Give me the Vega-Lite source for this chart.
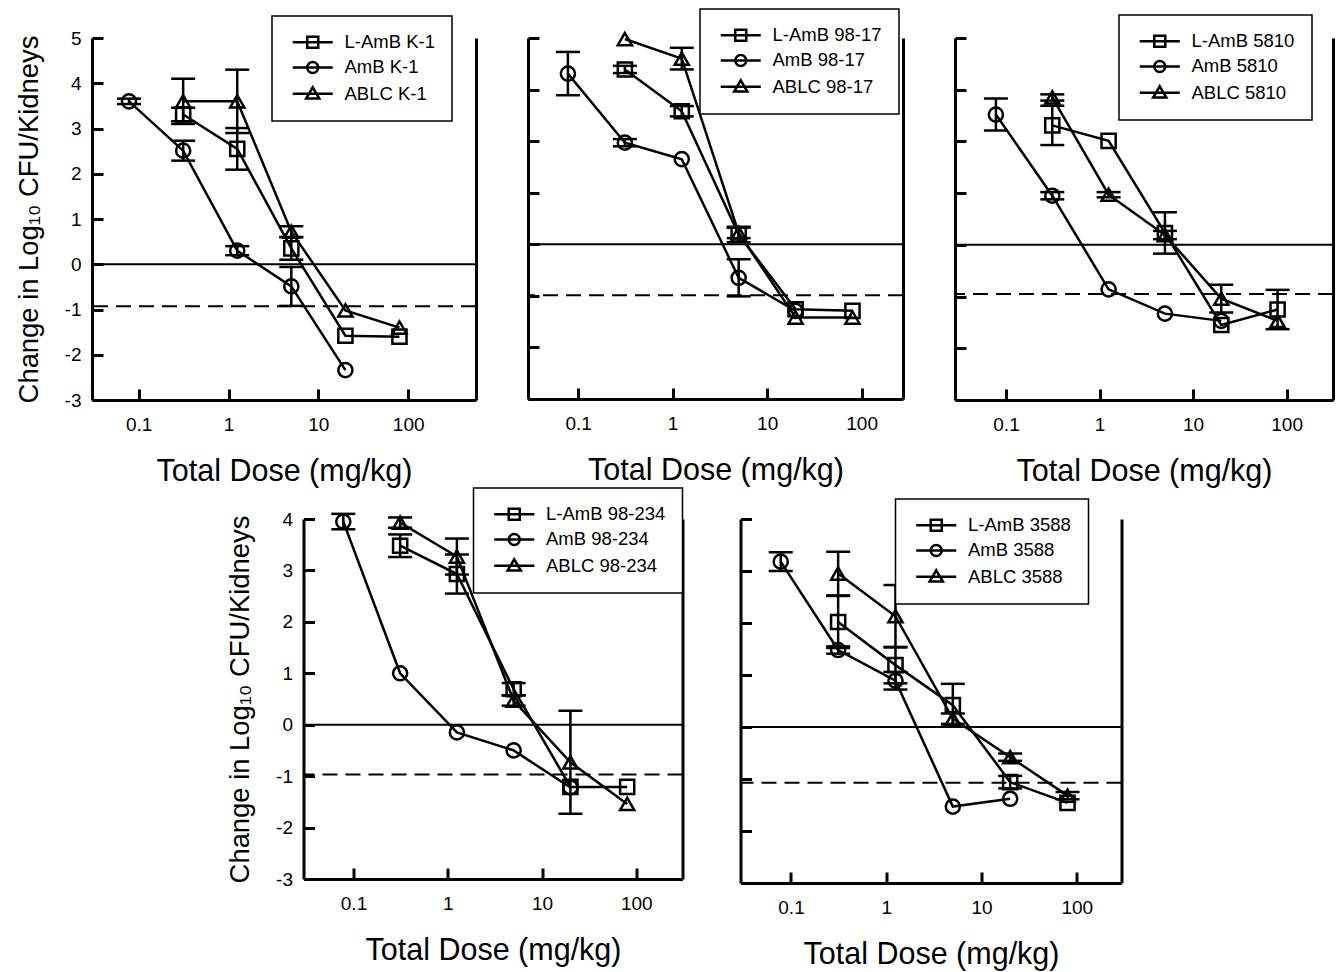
{
  "$schema": "https://vega.github.io/schema/vega-lite/v6.json",
  "background": "white",
  "padding": {"left": 15, "top": 8, "right": 5, "bottom": 5},
  "config": {
    "font": "Liberation Sans",
    "view": {"stroke": null},
    "axis": {"domainColor": "black", "domainWidth": 3, "tickColor": "black", "tickWidth": 3, "tickSize": -11, "labelColor": "black", "labelFontSize": 19, "titleColor": "black", "titleFontSize": 30.5, "titleFontWeight": "normal", "grid": false, "labelFont": "Liberation Sans", "titleFont": "Liberation Sans", "labelFlush": false},
    "axisX": {"titlePadding": 22, "labelPadding": 26},
    "axisY": {"titlePadding": 21, "labelPadding": 22, "titleFontSize": 27.4},
    "legend": {"orient": "none", "strokeColor": "black", "strokeWidth": 1.5, "fillColor": "white", "padding": 17, "labelFontSize": 18.5, "labelColor": "black", "labelFont": "Liberation Sans", "symbolSize": 121, "symbolStrokeWidth": 2.5, "symbolStrokeColor": "black", "symbolFillColor": "transparent", "symbolOffset": 14.5, "labelOffset": 22.5, "rowPadding": 3.2}
  },
  "spacing": 0,
  "center": true,
  "resolve": {"scale": {"shape": "independent"}, "legend": {"shape": "independent"}},
  "vconcat": [
    {
      "spacing": 52,
      "bounds": "flush",
      "resolve": {"scale": {"shape": "independent"}, "legend": {"shape": "independent"}},
      "hconcat": [
        {
          "width": 384, "height": 362,
          "data": {"values": [
            {"s": "L-AmB K-1", "d": 0.3125, "v": 3.31, "e": 0.15},
            {"s": "L-AmB K-1", "d": 1.25, "v": 2.55, "e": 0.46},
            {"s": "L-AmB K-1", "d": 5, "v": 0.35, "e": 0.25},
            {"s": "L-AmB K-1", "d": 20, "v": -1.58, "e": 0},
            {"s": "L-AmB K-1", "d": 80, "v": -1.6, "e": 0},
            {"s": "AmB K-1", "d": 0.078, "v": 3.6, "e": 0.06},
            {"s": "AmB K-1", "d": 0.3125, "v": 2.51, "e": 0.22},
            {"s": "AmB K-1", "d": 1.25, "v": 0.3, "e": 0.1},
            {"s": "AmB K-1", "d": 5, "v": -0.49, "e": 0.43},
            {"s": "AmB K-1", "d": 20, "v": -2.34, "e": 0},
            {"s": "ABLC K-1", "d": 0.3125, "v": 3.6, "e": 0.5},
            {"s": "ABLC K-1", "d": 1.25, "v": 3.6, "e": 0.7},
            {"s": "ABLC K-1", "d": 5, "v": 0.72, "e": 0.12},
            {"s": "ABLC K-1", "d": 20, "v": -1.02, "e": 0},
            {"s": "ABLC K-1", "d": 80, "v": -1.4, "e": 0}
          ]},
          "resolve": {"axis": {"y": "independent"}, "scale": {"shape": "independent"}},
          "layer": [
            {"data": {"values": [{"y": 0}]}, "mark": {"type": "rule", "color": "black", "strokeWidth": 2}, "encoding": {"y": {"field": "y", "type": "quantitative", "scale": {"domain": [-3, 5], "nice": false}, "axis": {"orient": "right", "labels": false, "ticks": false, "title": null, "domain": true}}}},
            {"data": {"values": [{"y": -0.93}]}, "mark": {"type": "rule", "color": "black", "strokeWidth": 2, "strokeDash": [15, 8]}, "encoding": {"y": {"field": "y", "type": "quantitative", "axis": null}}},
            {"transform": [{"filter": "datum.e > 0"}], "mark": {"type": "errorbar", "color": "black", "thickness": 2.5, "ticks": {"size": 24, "color": "black", "opacity": 1}, "rule": {"color": "black", "opacity": 1}}, "encoding": {"x": {"field": "d", "type": "quantitative", "scale": {"type": "log", "domain": [0.0302, 569], "nice": false}, "axis": {"values": [0.1, 1, 10, 100], "format": "~g", "title": "Total Dose (mg/kg)"}}, "y": {"field": "v", "type": "quantitative", "axis": null}, "yError": {"field": "e"}}},
            {"mark": {"type": "line", "color": "black", "strokeWidth": 2.5}, "encoding": {"x": {"field": "d", "type": "quantitative", "scale": {"type": "log", "domain": [0.0302, 569], "nice": false}, "axis": {"values": [0.1, 1, 10, 100], "format": "~g", "title": "Total Dose (mg/kg)"}}, "y": {"field": "v", "type": "quantitative", "scale": {"domain": [-3, 5], "nice": false}, "axis": {"values": [-3, -2, -1, 0, 1, 2, 3, 4, 5], "labelExpr": "'' + datum.value", "title": "Change in Log₁₀ CFU/Kidneys"}}, "detail": {"field": "s"}}},
            {"mark": {"type": "point", "filled": false, "color": "black", "strokeWidth": 2.5, "size": 200, "opacity": 1}, "encoding": {"x": {"field": "d", "type": "quantitative", "scale": {"type": "log", "domain": [0.0302, 569], "nice": false}, "axis": {"values": [0.1, 1, 10, 100], "format": "~g", "title": "Total Dose (mg/kg)"}}, "y": {"field": "v", "type": "quantitative", "axis": null}, "shape": {"field": "s", "type": "nominal", "scale": {"domain": ["L-AmB K-1", "AmB K-1", "ABLC K-1"], "range": ["square", "circle", "triangle-up"]}, "legend": null}}},
            {"transform": [{"filter": "false"}], "mark": {"type": "point", "filled": false, "color": "black", "strokeWidth": 2.5, "opacity": 1}, "encoding": {"shape": {"field": "s", "type": "nominal", "scale": {"domain": ["L-AmB K-1", "AmB K-1", "ABLC K-1"], "range": ["M-3.64,0H3.64M-1,-1H1V1H-1Z", "M-3.64,0H3.64M-1,0A1,1,0,1,0,1,0A1,1,0,1,0,-1,0Z", "M-3.64,0H3.64M0,-1.15L1.2,0.9H-1.2Z"]}, "legend": {"title": null, "legendX": 180, "legendY": -22}}}}
          ]
        },
        {
          "width": 375, "height": 361,
          "data": {"values": [
            {"s": "L-AmB 98-17", "d": 0.3125, "v": 3.39, "e": 0.07},
            {"s": "L-AmB 98-17", "d": 1.25, "v": 2.58, "e": 0.1},
            {"s": "L-AmB 98-17", "d": 5, "v": 0.19, "e": 0.15},
            {"s": "L-AmB 98-17", "d": 20, "v": -1.26, "e": 0},
            {"s": "L-AmB 98-17", "d": 80, "v": -1.29, "e": 0},
            {"s": "AmB 98-17", "d": 0.078, "v": 3.31, "e": 0.42},
            {"s": "AmB 98-17", "d": 0.3125, "v": 1.97, "e": 0.07},
            {"s": "AmB 98-17", "d": 1.25, "v": 1.65, "e": 0},
            {"s": "AmB 98-17", "d": 5, "v": -0.65, "e": 0.36},
            {"s": "AmB 98-17", "d": 20, "v": -1.29, "e": 0},
            {"s": "ABLC 98-17", "d": 0.3125, "v": 3.98, "e": 0},
            {"s": "ABLC 98-17", "d": 1.25, "v": 3.6, "e": 0.21},
            {"s": "ABLC 98-17", "d": 5, "v": 0.22, "e": 0.1},
            {"s": "ABLC 98-17", "d": 20, "v": -1.42, "e": 0},
            {"s": "ABLC 98-17", "d": 80, "v": -1.42, "e": 0}
          ]},
          "resolve": {"axis": {"y": "independent"}, "scale": {"shape": "independent"}},
          "layer": [
            {"data": {"values": [{"y": 0}]}, "mark": {"type": "rule", "color": "black", "strokeWidth": 2}, "encoding": {"y": {"field": "y", "type": "quantitative", "scale": {"domain": [-3, 4], "nice": false}, "axis": {"orient": "right", "labels": false, "ticks": false, "title": null, "domain": true}}}},
            {"data": {"values": [{"y": -0.99}]}, "mark": {"type": "rule", "color": "black", "strokeWidth": 2, "strokeDash": [15, 8]}, "encoding": {"y": {"field": "y", "type": "quantitative", "axis": null}}},
            {"transform": [{"filter": "datum.e > 0"}], "mark": {"type": "errorbar", "color": "black", "thickness": 2.5, "ticks": {"size": 24, "color": "black", "opacity": 1}, "rule": {"color": "black", "opacity": 1}}, "encoding": {"x": {"field": "d", "type": "quantitative", "scale": {"type": "log", "domain": [0.0295, 274], "nice": false}, "axis": {"values": [0.1, 1, 10, 100], "format": "~g", "title": "Total Dose (mg/kg)"}}, "y": {"field": "v", "type": "quantitative", "axis": null}, "yError": {"field": "e"}}},
            {"mark": {"type": "line", "color": "black", "strokeWidth": 2.5}, "encoding": {"x": {"field": "d", "type": "quantitative", "scale": {"type": "log", "domain": [0.0295, 274], "nice": false}, "axis": {"values": [0.1, 1, 10, 100], "format": "~g", "title": "Total Dose (mg/kg)"}}, "y": {"field": "v", "type": "quantitative", "scale": {"domain": [-3, 4], "nice": false}, "axis": {"values": [-3, -2, -1, 0, 1, 2, 3, 4], "labels": false, "title": null}}, "detail": {"field": "s"}}},
            {"mark": {"type": "point", "filled": false, "color": "black", "strokeWidth": 2.5, "size": 200, "opacity": 1}, "encoding": {"x": {"field": "d", "type": "quantitative", "scale": {"type": "log", "domain": [0.0295, 274], "nice": false}, "axis": {"values": [0.1, 1, 10, 100], "format": "~g", "title": "Total Dose (mg/kg)"}}, "y": {"field": "v", "type": "quantitative", "axis": null}, "shape": {"field": "s", "type": "nominal", "scale": {"domain": ["L-AmB 98-17", "AmB 98-17", "ABLC 98-17"], "range": ["square", "circle", "triangle-up"]}, "legend": null}}},
            {"transform": [{"filter": "false"}], "mark": {"type": "point", "filled": false, "color": "black", "strokeWidth": 2.5, "opacity": 1}, "encoding": {"shape": {"field": "s", "type": "nominal", "scale": {"domain": ["L-AmB 98-17", "AmB 98-17", "ABLC 98-17"], "range": ["M-3.64,0H3.64M-1,-1H1V1H-1Z", "M-3.64,0H3.64M-1,0A1,1,0,1,0,1,0A1,1,0,1,0,-1,0Z", "M-3.64,0H3.64M0,-1.15L1.2,0.9H-1.2Z"]}, "legend": {"title": null, "legendX": 172, "legendY": -29}}}}
          ]
        },
        {
          "width": 378, "height": 362,
          "data": {"values": [
            {"s": "L-AmB 5810", "d": 0.3125, "v": 2.31, "e": 0.38},
            {"s": "L-AmB 5810", "d": 1.25, "v": 2.01, "e": 0},
            {"s": "L-AmB 5810", "d": 5, "v": 0.23, "e": 0.4},
            {"s": "L-AmB 5810", "d": 20, "v": -1.55, "e": 0},
            {"s": "L-AmB 5810", "d": 80, "v": -1.25, "e": 0.38},
            {"s": "AmB 5810", "d": 0.078, "v": 2.52, "e": 0.31},
            {"s": "AmB 5810", "d": 0.3125, "v": 0.95, "e": 0.07},
            {"s": "AmB 5810", "d": 1.25, "v": -0.86, "e": 0},
            {"s": "AmB 5810", "d": 5, "v": -1.33, "e": 0},
            {"s": "AmB 5810", "d": 20, "v": -1.47, "e": 0},
            {"s": "ABLC 5810", "d": 0.3125, "v": 2.85, "e": 0.06},
            {"s": "ABLC 5810", "d": 1.25, "v": 0.97, "e": 0.05},
            {"s": "ABLC 5810", "d": 5, "v": 0.19, "e": 0.08},
            {"s": "ABLC 5810", "d": 20, "v": -1.04, "e": 0.27},
            {"s": "ABLC 5810", "d": 80, "v": -1.47, "e": 0}
          ]},
          "resolve": {"axis": {"y": "independent"}, "scale": {"shape": "independent"}},
          "layer": [
            {"data": {"values": [{"y": 0}]}, "mark": {"type": "rule", "color": "black", "strokeWidth": 2}, "encoding": {"y": {"field": "y", "type": "quantitative", "scale": {"domain": [-3, 4], "nice": false}, "axis": {"orient": "right", "labels": false, "ticks": false, "title": null, "domain": true}}}},
            {"data": {"values": [{"y": -0.95}]}, "mark": {"type": "rule", "color": "black", "strokeWidth": 2, "strokeDash": [15, 8]}, "encoding": {"y": {"field": "y", "type": "quantitative", "axis": null}}},
            {"transform": [{"filter": "datum.e > 0"}], "mark": {"type": "errorbar", "color": "black", "thickness": 2.5, "ticks": {"size": 24, "color": "black", "opacity": 1}, "rule": {"color": "black", "opacity": 1}}, "encoding": {"x": {"field": "d", "type": "quantitative", "scale": {"type": "log", "domain": [0.0285, 313], "nice": false}, "axis": {"values": [0.1, 1, 10, 100], "format": "~g", "title": "Total Dose (mg/kg)"}}, "y": {"field": "v", "type": "quantitative", "axis": null}, "yError": {"field": "e"}}},
            {"mark": {"type": "line", "color": "black", "strokeWidth": 2.5}, "encoding": {"x": {"field": "d", "type": "quantitative", "scale": {"type": "log", "domain": [0.0285, 313], "nice": false}, "axis": {"values": [0.1, 1, 10, 100], "format": "~g", "title": "Total Dose (mg/kg)"}}, "y": {"field": "v", "type": "quantitative", "scale": {"domain": [-3, 4], "nice": false}, "axis": {"values": [-3, -2, -1, 0, 1, 2, 3, 4], "labels": false, "title": null}}, "detail": {"field": "s"}}},
            {"mark": {"type": "point", "filled": false, "color": "black", "strokeWidth": 2.5, "size": 200, "opacity": 1}, "encoding": {"x": {"field": "d", "type": "quantitative", "scale": {"type": "log", "domain": [0.0285, 313], "nice": false}, "axis": {"values": [0.1, 1, 10, 100], "format": "~g", "title": "Total Dose (mg/kg)"}}, "y": {"field": "v", "type": "quantitative", "axis": null}, "shape": {"field": "s", "type": "nominal", "scale": {"domain": ["L-AmB 5810", "AmB 5810", "ABLC 5810"], "range": ["square", "circle", "triangle-up"]}, "legend": null}}},
            {"transform": [{"filter": "false"}], "mark": {"type": "point", "filled": false, "color": "black", "strokeWidth": 2.5, "opacity": 1}, "encoding": {"shape": {"field": "s", "type": "nominal", "scale": {"domain": ["L-AmB 5810", "AmB 5810", "ABLC 5810"], "range": ["M-3.64,0H3.64M-1,-1H1V1H-1Z", "M-3.64,0H3.64M-1,0A1,1,0,1,0,1,0A1,1,0,1,0,-1,0Z", "M-3.64,0H3.64M0,-1.15L1.2,0.9H-1.2Z"]}, "legend": {"title": null, "legendX": 164, "legendY": -23}}}}
          ]
        }
      ]
    },
    {
      "spacing": 58,
      "bounds": "flush",
      "resolve": {"scale": {"shape": "independent"}, "legend": {"shape": "independent"}},
      "hconcat": [
        {
          "width": 379, "height": 360,
          "data": {"values": [
            {"s": "L-AmB 98-234", "d": 0.3125, "v": 3.48, "e": 0.22},
            {"s": "L-AmB 98-234", "d": 1.25, "v": 2.93, "e": 0.38},
            {"s": "L-AmB 98-234", "d": 5, "v": 0.69, "e": 0.12},
            {"s": "L-AmB 98-234", "d": 20, "v": -1.21, "e": 0},
            {"s": "L-AmB 98-234", "d": 80, "v": -1.21, "e": 0},
            {"s": "AmB 98-234", "d": 0.078, "v": 3.95, "e": 0.15},
            {"s": "AmB 98-234", "d": 0.3125, "v": 1.0, "e": 0},
            {"s": "AmB 98-234", "d": 1.25, "v": -0.15, "e": 0},
            {"s": "AmB 98-234", "d": 5, "v": -0.5, "e": 0},
            {"s": "AmB 98-234", "d": 20, "v": -1.22, "e": 0},
            {"s": "ABLC 98-234", "d": 0.3125, "v": 3.93, "e": 0.1},
            {"s": "ABLC 98-234", "d": 1.25, "v": 3.27, "e": 0.35},
            {"s": "ABLC 98-234", "d": 5, "v": 0.47, "e": 0.1},
            {"s": "ABLC 98-234", "d": 20, "v": -0.73, "e": 1.0},
            {"s": "ABLC 98-234", "d": 80, "v": -1.54, "e": 0}
          ]},
          "resolve": {"axis": {"y": "independent"}, "scale": {"shape": "independent"}},
          "layer": [
            {"data": {"values": [{"y": 0}]}, "mark": {"type": "rule", "color": "black", "strokeWidth": 2}, "encoding": {"y": {"field": "y", "type": "quantitative", "scale": {"domain": [-3, 4], "nice": false}, "axis": {"orient": "right", "labels": false, "ticks": false, "title": null, "domain": true}}}},
            {"data": {"values": [{"y": -0.97}]}, "mark": {"type": "rule", "color": "black", "strokeWidth": 2, "strokeDash": [15, 8]}, "encoding": {"y": {"field": "y", "type": "quantitative", "axis": null}}},
            {"transform": [{"filter": "datum.e > 0"}], "mark": {"type": "errorbar", "color": "black", "thickness": 2.5, "ticks": {"size": 24, "color": "black", "opacity": 1}, "rule": {"color": "black", "opacity": 1}}, "encoding": {"x": {"field": "d", "type": "quantitative", "scale": {"type": "log", "domain": [0.0295, 309], "nice": false}, "axis": {"values": [0.1, 1, 10, 100], "format": "~g", "title": "Total Dose (mg/kg)"}}, "y": {"field": "v", "type": "quantitative", "axis": null}, "yError": {"field": "e"}}},
            {"mark": {"type": "line", "color": "black", "strokeWidth": 2.5}, "encoding": {"x": {"field": "d", "type": "quantitative", "scale": {"type": "log", "domain": [0.0295, 309], "nice": false}, "axis": {"values": [0.1, 1, 10, 100], "format": "~g", "title": "Total Dose (mg/kg)"}}, "y": {"field": "v", "type": "quantitative", "scale": {"domain": [-3, 4], "nice": false}, "axis": {"values": [-3, -2, -1, 0, 1, 2, 3, 4], "labelExpr": "'' + datum.value", "title": "Change in Log₁₀ CFU/Kidneys"}}, "detail": {"field": "s"}}},
            {"mark": {"type": "point", "filled": false, "color": "black", "strokeWidth": 2.5, "size": 200, "opacity": 1}, "encoding": {"x": {"field": "d", "type": "quantitative", "scale": {"type": "log", "domain": [0.0295, 309], "nice": false}, "axis": {"values": [0.1, 1, 10, 100], "format": "~g", "title": "Total Dose (mg/kg)"}}, "y": {"field": "v", "type": "quantitative", "axis": null}, "shape": {"field": "s", "type": "nominal", "scale": {"domain": ["L-AmB 98-234", "AmB 98-234", "ABLC 98-234"], "range": ["square", "circle", "triangle-up"]}, "legend": null}}},
            {"transform": [{"filter": "false"}], "mark": {"type": "point", "filled": false, "color": "black", "strokeWidth": 2.5, "opacity": 1}, "encoding": {"shape": {"field": "s", "type": "nominal", "scale": {"domain": ["L-AmB 98-234", "AmB 98-234", "ABLC 98-234"], "range": ["M-3.64,0H3.64M-1,-1H1V1H-1Z", "M-3.64,0H3.64M-1,0A1,1,0,1,0,1,0A1,1,0,1,0,-1,0Z", "M-3.64,0H3.64M0,-1.15L1.2,0.9H-1.2Z"]}, "legend": {"title": null, "legendX": 170, "legendY": -31}}}}
          ]
        },
        {
          "width": 381, "height": 364,
          "data": {"values": [
            {"s": "L-AmB 3588", "d": 0.3125, "v": 2.02, "e": 0.5},
            {"s": "L-AmB 3588", "d": 1.25, "v": 1.19, "e": 0.35},
            {"s": "L-AmB 3588", "d": 5, "v": 0.42, "e": 0.41},
            {"s": "L-AmB 3588", "d": 20, "v": -1.06, "e": 0.12},
            {"s": "L-AmB 3588", "d": 80, "v": -1.46, "e": 0},
            {"s": "AmB 3588", "d": 0.078, "v": 3.18, "e": 0.18},
            {"s": "AmB 3588", "d": 0.3125, "v": 1.48, "e": 0.07},
            {"s": "AmB 3588", "d": 1.25, "v": 0.89, "e": 0.17},
            {"s": "AmB 3588", "d": 5, "v": -1.53, "e": 0},
            {"s": "AmB 3588", "d": 20, "v": -1.38, "e": 0},
            {"s": "ABLC 3588", "d": 0.3125, "v": 2.95, "e": 0.42},
            {"s": "ABLC 3588", "d": 1.25, "v": 2.13, "e": 0.6},
            {"s": "ABLC 3588", "d": 5, "v": 0.16, "e": 0.1},
            {"s": "ABLC 3588", "d": 20, "v": -0.58, "e": 0.07},
            {"s": "ABLC 3588", "d": 80, "v": -1.32, "e": 0.07}
          ]},
          "resolve": {"axis": {"y": "independent"}, "scale": {"shape": "independent"}},
          "layer": [
            {"data": {"values": [{"y": 0}]}, "mark": {"type": "rule", "color": "black", "strokeWidth": 2}, "encoding": {"y": {"field": "y", "type": "quantitative", "scale": {"domain": [-3, 4], "nice": false}, "axis": {"orient": "right", "labels": false, "ticks": false, "title": null, "domain": true}}}},
            {"data": {"values": [{"y": -1.07}]}, "mark": {"type": "rule", "color": "black", "strokeWidth": 2, "strokeDash": [15, 8]}, "encoding": {"y": {"field": "y", "type": "quantitative", "axis": null}}},
            {"transform": [{"filter": "datum.e > 0"}], "mark": {"type": "errorbar", "color": "black", "thickness": 2.5, "ticks": {"size": 24, "color": "black", "opacity": 1}, "rule": {"color": "black", "opacity": 1}}, "encoding": {"x": {"field": "d", "type": "quantitative", "scale": {"type": "log", "domain": [0.0295, 295], "nice": false}, "axis": {"values": [0.1, 1, 10, 100], "format": "~g", "title": "Total Dose (mg/kg)"}}, "y": {"field": "v", "type": "quantitative", "axis": null}, "yError": {"field": "e"}}},
            {"mark": {"type": "line", "color": "black", "strokeWidth": 2.5}, "encoding": {"x": {"field": "d", "type": "quantitative", "scale": {"type": "log", "domain": [0.0295, 295], "nice": false}, "axis": {"values": [0.1, 1, 10, 100], "format": "~g", "title": "Total Dose (mg/kg)"}}, "y": {"field": "v", "type": "quantitative", "scale": {"domain": [-3, 4], "nice": false}, "axis": {"values": [-3, -2, -1, 0, 1, 2, 3, 4], "labels": false, "title": null}}, "detail": {"field": "s"}}},
            {"mark": {"type": "point", "filled": false, "color": "black", "strokeWidth": 2.5, "size": 200, "opacity": 1}, "encoding": {"x": {"field": "d", "type": "quantitative", "scale": {"type": "log", "domain": [0.0295, 295], "nice": false}, "axis": {"values": [0.1, 1, 10, 100], "format": "~g", "title": "Total Dose (mg/kg)"}}, "y": {"field": "v", "type": "quantitative", "axis": null}, "shape": {"field": "s", "type": "nominal", "scale": {"domain": ["L-AmB 3588", "AmB 3588", "ABLC 3588"], "range": ["square", "circle", "triangle-up"]}, "legend": null}}},
            {"transform": [{"filter": "false"}], "mark": {"type": "point", "filled": false, "color": "black", "strokeWidth": 2.5, "opacity": 1}, "encoding": {"shape": {"field": "s", "type": "nominal", "scale": {"domain": ["L-AmB 3588", "AmB 3588", "ABLC 3588"], "range": ["M-3.64,0H3.64M-1,-1H1V1H-1Z", "M-3.64,0H3.64M-1,0A1,1,0,1,0,1,0A1,1,0,1,0,-1,0Z", "M-3.64,0H3.64M0,-1.15L1.2,0.9H-1.2Z"]}, "legend": {"title": null, "legendX": 155, "legendY": -20}}}}
          ]
        }
      ]
    }
  ]
}
